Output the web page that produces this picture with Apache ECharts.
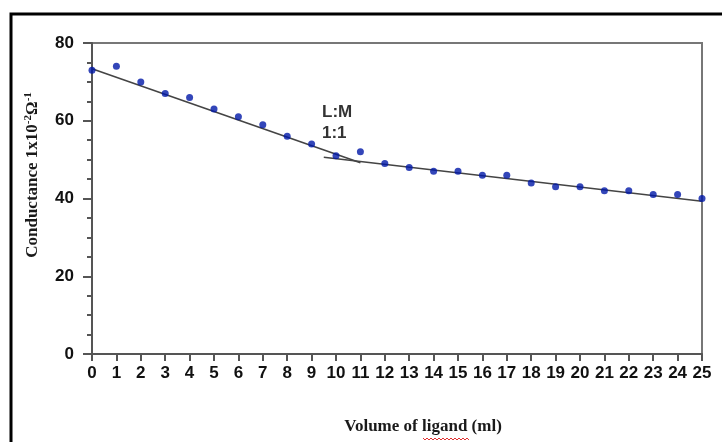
<!DOCTYPE html>
<html>
<head>
<meta charset="utf-8">
<script src="https://cdn.jsdelivr.net/npm/echarts@6/dist/echarts.min.js"></script>
<style>html,body{margin:0;padding:0;background:#fff;}#c{width:722px;height:442px;}</style>
</head>
<body>
<div id="c"></div>
<script>
var volumes = [0,1,2,3,4,5,6,7,8,9,10,11,12,13,14,15,16,17,18,19,20,21,22,23,24,25];
var conductance = [73,74,70,67,66,63,61,59,56,54,51,52,49,48,47,47,46,46,44,43,43,42,42,41,41,40];
var trend1 = [[0,73.4],[11,49.2]];
var trend2 = [[9.5,50.6],[25,39.3]];
var yTicks = [0,20,40,60,80];
var xTitle = 'Volume of ligand (ml)';
var annot = 'L:M\n1:1';

var chart = echarts.init(document.getElementById('c'), null, {renderer:'canvas'});
var pts = volumes.map(function(v,i){return [v, conductance[i]];});
chart.setOption({
  animation:false,
  backgroundColor:'#fff',
  grid:{left:92, top:43, right:20, bottom:88, show:true, borderColor:'#777', borderWidth:2},
  xAxis:{type:'value', min:0, max:25, interval:1,
    axisLine:{lineStyle:{color:'#555', width:2}},
    axisTick:{show:true, length:7, lineStyle:{color:'#555', width:2}},
    axisLabel:{margin:11, color:'#111', fontFamily:'Liberation Sans, Arial', fontSize:17, fontWeight:'bold', showMinLabel:true, showMaxLabel:true},
    splitLine:{show:false}},
  yAxis:{type:'value', min:0, max:80, interval:20,
    axisLine:{show:true, lineStyle:{color:'#555', width:2}},
    axisTick:{show:true, length:9, lineStyle:{color:'#555', width:2}},
    minorTick:{show:true, splitNumber:4, length:5, lineStyle:{color:'#555', width:2}},
    axisLabel:{margin:18, color:'#111', fontFamily:'Liberation Sans, Arial', fontSize:17, fontWeight:'bold',
      formatter:function(v){return yTicks.indexOf(v)>=0 ? String(v) : '';}},
    splitLine:{show:false}},
  series:[
    {type:'line', data:trend1, showSymbol:false, lineStyle:{color:'#444', width:1.6}, z:2},
    {type:'line', data:trend2, showSymbol:false, lineStyle:{color:'#444', width:1.6}, z:2},
    {type:'scatter', data:pts, symbolSize:7, itemStyle:{color:'#0018a8'}, z:3}
  ],
  graphic:[
    {type:'rect', shape:{x:11, y:14, width:800, height:500}, style:{fill:'none', stroke:'#000', lineWidth:3}, z:10},
    {type:'text', x:33, y:175, rotation:Math.PI/2,
      style:{text:'{a|Conductance 1x10}{s|-2}{a|Ω}{s|-1}', align:'center', verticalAlign:'middle',
        rich:{a:{fontFamily:'Liberation Serif, Times New Roman', fontSize:17, fontWeight:'bold', fill:'#1a1a1a'},
              s:{fontFamily:'Liberation Serif, Times New Roman', fontSize:11, fontWeight:'bold', fill:'#1a1a1a', verticalAlign:'top', padding:[0,0,9,0]}}}},
    {type:'text', x:423, y:427,
      style:{text:xTitle, align:'center', verticalAlign:'middle', fontFamily:'Liberation Serif, Times New Roman', fontSize:17, fontWeight:'bold', fill:'#1a1a1a'}},
    {type:'polyline', shape:{points:[[423,438],[425,440],[427,438],[429,440],[431,438],[433,440],[435,438],[437,440],[439,438],[441,440],[443,438],[445,440],[447,438],[449,440],[451,438],[453,440],[455,438],[457,440],[459,438],[461,440],[463,438],[465,440],[467,438],[469,440]]},
      style:{stroke:'#e03030', lineWidth:1, fill:'none'}},
    {type:'text', x:322, y:102,
      style:{text:annot, align:'left', verticalAlign:'top', fontFamily:'Liberation Sans, Arial', fontSize:17, fontWeight:'bold', fill:'#333', lineHeight:21}}
  ]
});
</script>
</body>
</html>
